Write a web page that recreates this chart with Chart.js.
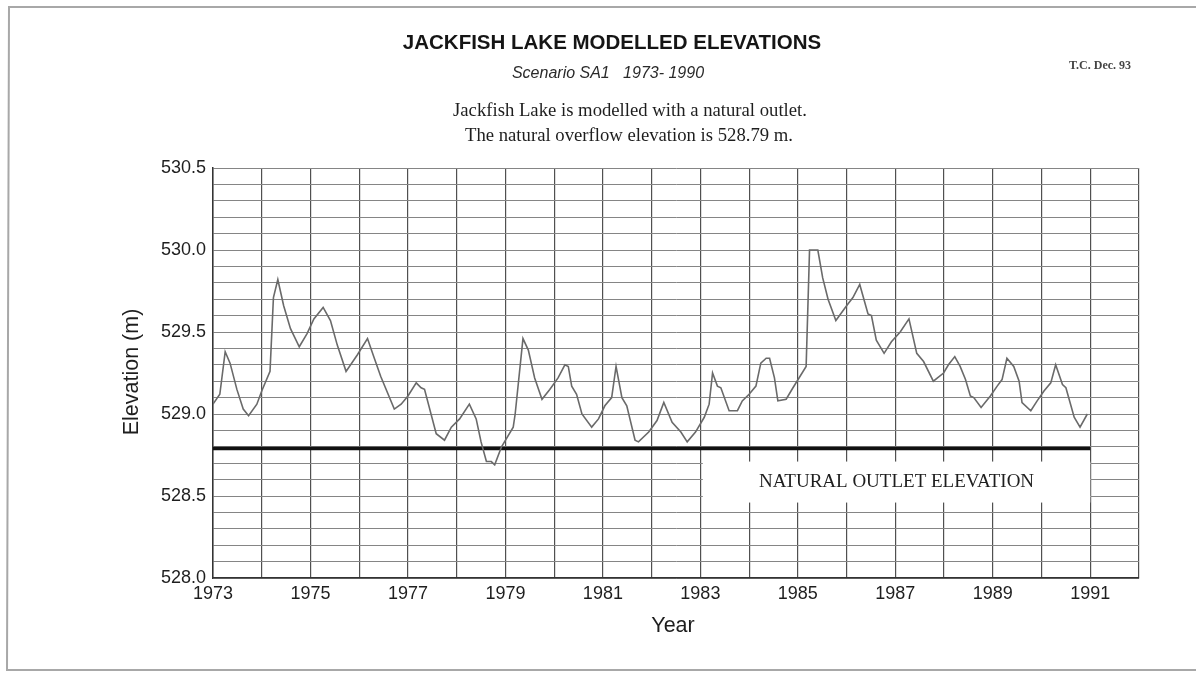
<!DOCTYPE html>
<html>
<head>
<meta charset="utf-8">
<title>Jackfish Lake Modelled Elevations</title>
<script src="https://cdn.jsdelivr.net/npm/chart.js@4.4.1/dist/chart.umd.min.js"></script>
<style>
  html, body { margin: 0; padding: 0; background: #fff; }
  #wrap { position: relative; width: 1203px; height: 679px; }
</style>
</head>
<body>
<div id="wrap"><canvas id="chart" width="1203" height="679"></canvas></div>
<script>
// Modelled lake elevation (m) against decimal year, scenario SA1
const years = [
  1973.00, 1973.14, 1973.25, 1973.35, 1973.49, 1973.62, 1973.73, 1973.90,
  1974.00, 1974.17, 1974.24, 1974.33, 1974.45, 1974.59, 1974.77, 1974.93,
  1975.07, 1975.26, 1975.41, 1975.55, 1975.73, 1975.96,
  1976.17, 1976.31, 1976.44, 1976.72, 1976.86,
  1977.00, 1977.17, 1977.27, 1977.34, 1977.58, 1977.75, 1977.89,
  1978.06, 1978.26, 1978.40, 1978.50, 1978.61, 1978.71, 1978.78, 1978.92,
  1979.16, 1979.20, 1979.36, 1979.47, 1979.60, 1979.75, 1979.91,
  1980.08, 1980.22, 1980.29, 1980.36, 1980.46, 1980.57, 1980.77, 1980.91,
  1981.04, 1981.18, 1981.27, 1981.39, 1981.49, 1981.66, 1981.73, 1981.94,
  1982.11, 1982.25, 1982.42, 1982.60, 1982.73, 1982.90,
  1983.08, 1983.18, 1983.25, 1983.35, 1983.42, 1983.59, 1983.76, 1983.86,
  1984.00, 1984.14, 1984.24, 1984.35, 1984.42, 1984.52, 1984.59, 1984.76, 1984.90,
  1985.17, 1985.24, 1985.41, 1985.51, 1985.62, 1985.78,
  1986.00, 1986.13, 1986.27, 1986.44, 1986.51, 1986.61, 1986.77, 1986.92,
  1987.10, 1987.28, 1987.44, 1987.58, 1987.78, 1987.99,
  1988.09, 1988.22, 1988.33, 1988.44, 1988.54, 1988.61, 1988.76, 1988.95,
  1989.09, 1989.19, 1989.29, 1989.43, 1989.54, 1989.60, 1989.78, 1989.91,
  1990.05, 1990.19, 1990.29, 1990.43, 1990.50, 1990.67, 1990.79, 1990.94
];
const elevations = [
  529.06, 529.12, 529.38, 529.31, 529.15, 529.03, 528.99, 529.06,
  529.14, 529.26, 529.71, 529.82, 529.66, 529.52, 529.41, 529.49,
  529.58, 529.65, 529.57, 529.42, 529.26, 529.36,
  529.46, 529.34, 529.23, 529.03, 529.06,
  529.11, 529.19, 529.16, 529.15, 528.88, 528.84, 528.92,
  528.97, 529.06, 528.97, 528.83, 528.71, 528.71, 528.69, 528.80,
  528.92, 529.00, 529.46, 529.39, 529.22, 529.09, 529.15,
  529.22, 529.30, 529.29, 529.17, 529.12, 529.00, 528.92, 528.97,
  529.05, 529.10, 529.29, 529.10, 529.05, 528.84, 528.83, 528.89,
  528.96, 529.07, 528.95, 528.89, 528.83, 528.89,
  528.98, 529.06, 529.25, 529.17, 529.16, 529.02, 529.02, 529.08,
  529.12, 529.17, 529.31, 529.34, 529.34, 529.22, 529.08, 529.09, 529.16,
  529.29, 530.00, 530.00, 529.83, 529.70, 529.57,
  529.66, 529.71, 529.79, 529.61, 529.60, 529.45, 529.37, 529.44,
  529.50, 529.58, 529.37, 529.32, 529.20, 529.25,
  529.30, 529.35, 529.29, 529.21, 529.11, 529.10, 529.04, 529.11,
  529.17, 529.21, 529.34, 529.29, 529.20, 529.07, 529.02, 529.08,
  529.14, 529.19, 529.30, 529.18, 529.16, 528.98, 528.92, 529.00
];

// Natural outlet (overflow) elevation, drawn across the modelled period
const outletYears = [1973, 1991];
const outletLevel = 528.79;

// Axis ranges and labelled ticks
const yearRange = [1973, 1992];
const elevationRange = [528.0, 530.5];
const yearTickLabels = [1973, 1975, 1977, 1979, 1981, 1983, 1985, 1987, 1989, 1991];
const elevationTickLabels = [528.0, 528.5, 529.0, 529.5, 530.0, 530.5];

// Extent of the white label panel for the outlet line (years, metres)
const outletLabelBox = { x0: 1983.05, x1: 1991.0, y0: 528.46, y1: 528.71 };
const outletLabelText = 'NATURAL OUTLET ELEVATION';

const SANS = '"Liberation Sans", Arial, sans-serif';
const SERIF = '"Liberation Serif", "Times New Roman", serif';

const lakeSeries = years.map((x, i) => ({ x, y: elevations[i] }));
const outletSeries = outletYears.map(x => ({ x, y: outletLevel }));

const pageText = {
  id: 'pageText',
  beforeDraw(chart) {
    const ctx = chart.ctx;
    ctx.save();
    ctx.fillStyle = '#fff';
    ctx.fillRect(0, 0, chart.width, chart.height);
    // sheet outline
    ctx.strokeStyle = '#a8a8a8';
    ctx.lineWidth = 2;
    ctx.beginPath();
    ctx.moveTo(1196, 7);
    ctx.lineTo(9, 7);
    ctx.lineTo(7, 670);
    ctx.lineTo(1196, 670);
    ctx.stroke();
    ctx.restore();
  },
  beforeDatasetsDraw(chart) {
    const { ctx, scales: { x, y } } = chart;
    const b = outletLabelBox;
    const left = x.getPixelForValue(b.x0), right = x.getPixelForValue(b.x1);
    const top = y.getPixelForValue(b.y1), bottom = y.getPixelForValue(b.y0);
    ctx.save();
    ctx.fillStyle = '#fff';
    ctx.fillRect(left, top, right - left, bottom - top);
    ctx.restore();
  },
  afterDraw(chart) {
    const { ctx, scales: { x, y }, chartArea } = chart;
    ctx.save();
    ctx.fillStyle = '#151515';
    ctx.textAlign = 'center';
    ctx.textBaseline = 'middle';

    ctx.font = 'bold 20.5px ' + SANS;
    ctx.fillText('JACKFISH LAKE MODELLED ELEVATIONS', 612, 43);

    ctx.font = 'italic 16px ' + SANS;
    ctx.fillStyle = '#2a2a2a';
    ctx.fillText('Scenario SA1   1973- 1990', 608, 74);

    ctx.font = '18.7px ' + SERIF;
    ctx.fillStyle = '#1e1e1e';
    ctx.fillText('Jackfish Lake is modelled with a natural outlet.', 630, 111);
    ctx.fillText('The natural overflow elevation is 528.79 m.', 629, 136);

    ctx.font = 'bold 12px ' + SERIF;
    ctx.fillStyle = '#444';
    ctx.fillText('T.C. Dec. 93', 1100, 66);

    // outlet line label
    const b = outletLabelBox;
    ctx.font = '19px ' + SERIF;
    ctx.fillStyle = '#1e1e1e';
    ctx.fillText(outletLabelText,
      (x.getPixelForValue(b.x0) + x.getPixelForValue(b.x1)) / 2,
      (y.getPixelForValue(b.y0) + y.getPixelForValue(b.y1)) / 2);

    // axis titles
    ctx.font = '21.5px ' + SANS;
    ctx.fillStyle = '#1e1e1e';
    ctx.fillText('Year', 673, 626);
    ctx.translate(132, 372);
    ctx.rotate(-Math.PI / 2);
    ctx.fillText('Elevation (m)', 0, 0);
    ctx.restore();
  }
};

new Chart(document.getElementById('chart'), {
  type: 'line',
  data: {
    datasets: [
      {
        label: 'Modelled elevation',
        data: lakeSeries,
        borderColor: '#6a6a6a',
        borderWidth: 1.6,
        pointRadius: 0,
        tension: 0,
        fill: false
      },
      {
        label: 'Natural outlet elevation',
        data: outletSeries,
        borderColor: '#111',
        borderWidth: 3.5,
        pointRadius: 0,
        tension: 0,
        fill: false
      }
    ]
  },
  options: {
    responsive: false,
    animation: false,
    layout: { padding: { top: 168, right: 64, bottom: 0, left: 0 } },
    plugins: {
      legend: { display: false },
      title: { display: false },
      tooltip: { enabled: false }
    },
    scales: {
      x: {
        type: 'linear',
        min: yearRange[0],
        max: yearRange[1],
        afterFit(scale) { scale.height = 101; },
        ticks: {
          stepSize: 1,
          autoSkip: false,
          maxRotation: 0,
          padding: 5,
          color: '#1e1e1e',
          font: { family: SANS, size: 18 },
          callback: v => yearTickLabels.includes(v) ? String(v) : ''
        },
        grid: { color: '#505050', lineWidth: 1.2, drawTicks: false },
        border: { display: true, color: '#333', width: 1.5 }
      },
      y: {
        min: elevationRange[0],
        max: elevationRange[1],
        afterFit(scale) { scale.width = 213; },
        ticks: {
          stepSize: 0.1,
          autoSkip: false,
          padding: 7,
          color: '#1e1e1e',
          font: { family: SANS, size: 18 },
          callback: v => elevationTickLabels.some(t => Math.abs(t - v) < 1e-6) ? v.toFixed(1) : ''
        },
        grid: { color: '#858585', lineWidth: 1, drawTicks: false },
        border: { display: true, color: '#333', width: 1.5 }
      }
    }
  },
  plugins: [pageText]
});
</script>
</body>
</html>
